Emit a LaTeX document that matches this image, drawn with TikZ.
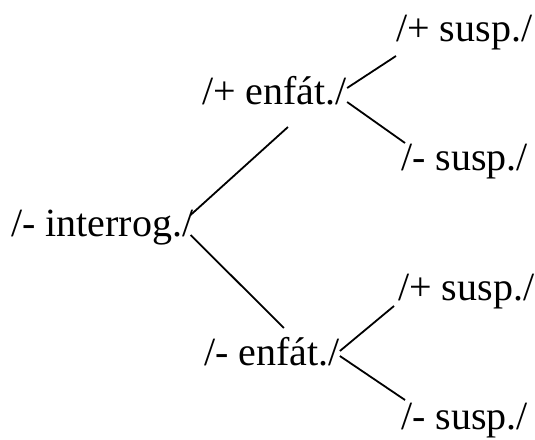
\documentclass[tikz,border=0pt]{standalone}
\usepackage{fontspec}
\setmainfont{Liberation Serif}
\begin{document}
\begin{tikzpicture}[x=1pt,y=-1pt,
  lab/.style={inner sep=0pt,anchor=base west,font=\fontsize{40}{43}\selectfont},
  branch/.style={line width=1.8pt,black}]
\useasboundingbox (0,0) rectangle (535,439);
\node[lab] (inter) at (11,236) {/- interrog./};
\node[lab] (ep) at (202,104) {/+ enfát./};
\node[lab] (em) at (204,365) {/- enfát./};
\node[lab] (pp1) at (396,41) {/+ susp./};
\node[lab] (pm1) at (401,170) {/- susp./};
\node[lab] (pp2) at (398,300) {/+ susp./};
\node[lab] (pm2) at (401,429) {/- susp./};
\draw[branch] ([shift={(-3,-21)}]inter.base east) -- ([shift={(13.4,23)}]ep.base);
\draw[branch] ([shift={(-3,-1)}]inter.base east) -- ([shift={(12,-37)}]em.base);
\draw[branch] ([shift={(0,-16)}]ep.base east) -- ([shift={(0,15)}]pp1.base west);
\draw[branch] ([shift={(0,-2)}]ep.base east) -- ([shift={(4,-27)}]pm1.base west);
\draw[branch] ([shift={(0,-14)}]em.base east) -- ([shift={(-4,6)}]pp2.base west);
\draw[branch] ([shift={(0,-9)}]em.base east) -- ([shift={(4,-29)}]pm2.base west);
\end{tikzpicture}
\end{document}
